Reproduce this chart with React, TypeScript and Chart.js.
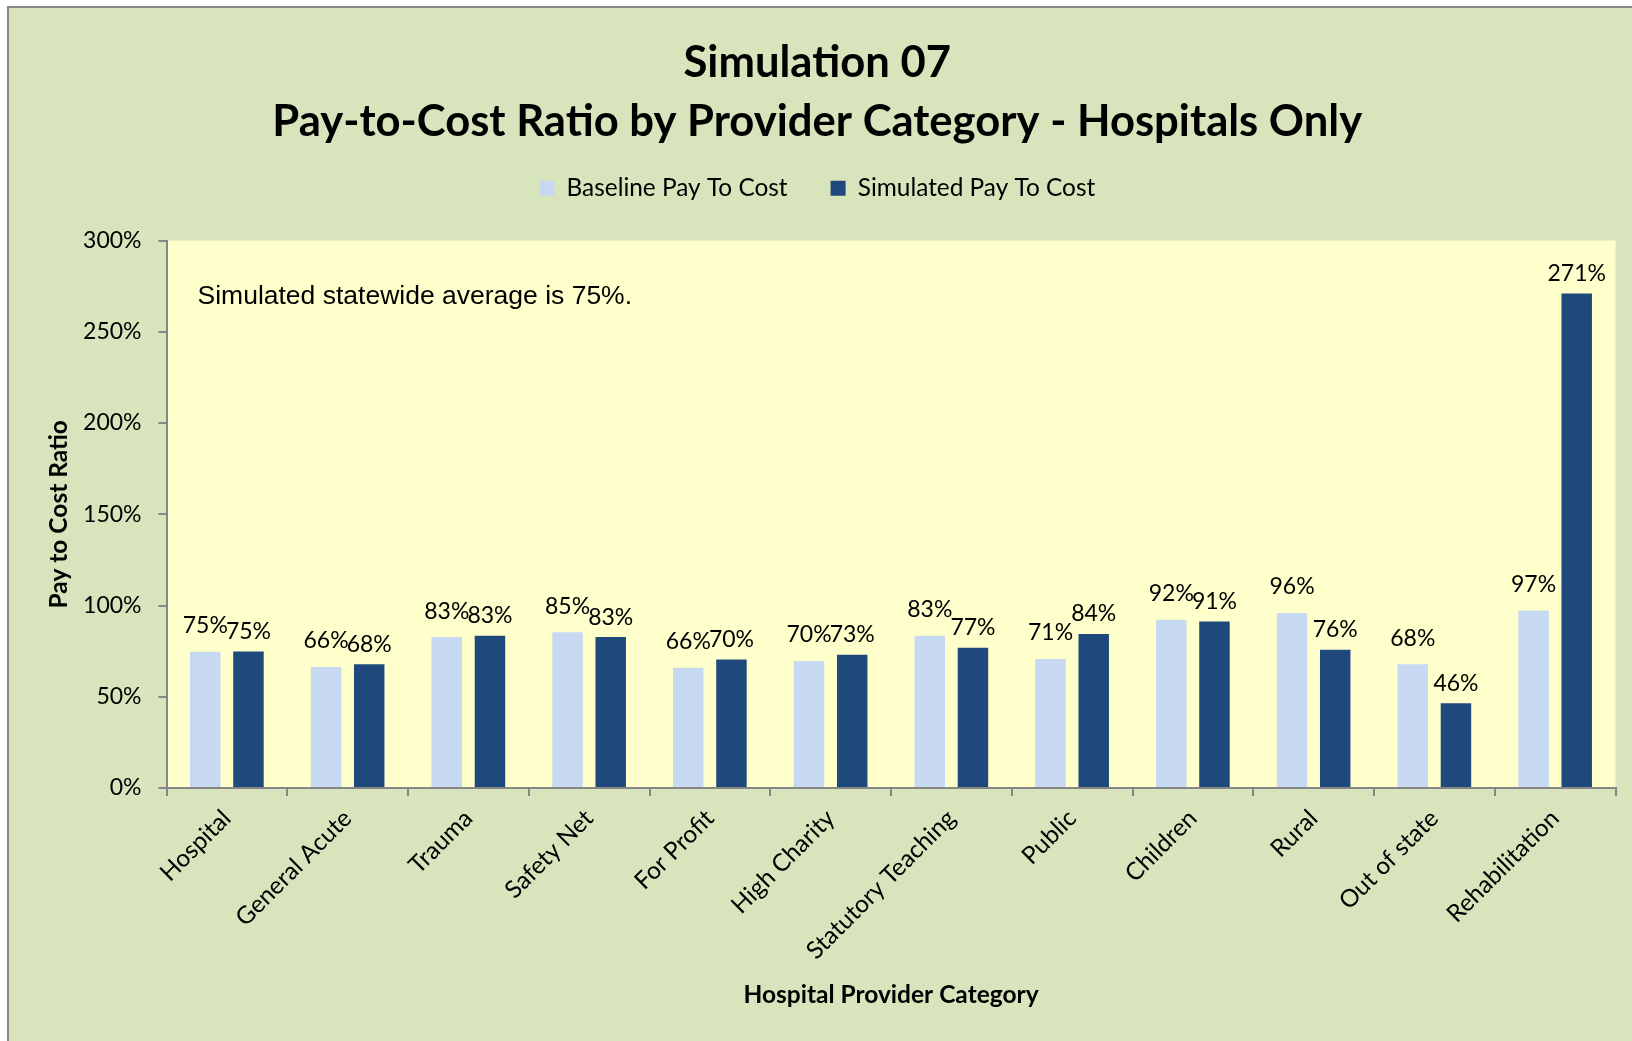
import React, { useEffect, useRef } from 'react';
import { Chart, registerables } from 'chart.js';

Chart.register(...registerables);

const categories = [
  'Hospital',
  'General Acute',
  'Trauma',
  'Safety Net',
  'For Profit',
  'High Charity',
  'Statutory Teaching',
  'Public',
  'Children',
  'Rural',
  'Out of state',
  'Rehabilitation',
];
const baselinePayToCost = [74.7, 66.3, 82.7, 85.3, 65.9, 69.6, 83.4, 70.7, 92.2, 95.9, 67.8, 97.3];
const simulatedPayToCost = [74.8, 67.8, 83.4, 82.7, 70.4, 73.0, 76.9, 84.4, 91.3, 75.8, 46.4, 271.0];
const yTickValues = [0, 50, 100, 150, 200, 250, 300];
const seriesNames = ['Baseline Pay To Cost', 'Simulated Pay To Cost'];
const titleLines = ['Simulation 07', 'Pay-to-Cost Ratio by Provider Category - Hospitals Only'];
const noteText = 'Simulated statewide average is 75%.';
const xAxisTitle = 'Hospital Provider Category';
const yAxisTitle = 'Pay to Cost Ratio';

const FONT = 'Lato';
const AXIS_GRAY = '#868686';
const PLOT_BG = '#FFFFCC';
const PAGE_BG = '#D8E4BC';
const BASELINE_COLOR = '#C6D9F1';
const SIMULATED_COLOR = '#1F497D';

const plotBackground = {
  id: 'plotBackground',
  beforeDraw(chart: any) {
    const { ctx, chartArea: a } = chart;
    ctx.save();
    ctx.fillStyle = PLOT_BG;
    ctx.fillRect(a.left, a.top, a.right - a.left, a.bottom - a.top);
    ctx.restore();
  },
};

const barLabels = {
  id: 'barLabels',
  afterDatasetsDraw(chart: any) {
    const { ctx } = chart;
    ctx.save();
    ctx.font = `23px ${FONT}`;
    ctx.fillStyle = '#000';
    ctx.textAlign = 'center';
    ctx.textBaseline = 'middle';
    chart.data.datasets.forEach((ds: any, i: number) => {
      const meta = chart.getDatasetMeta(i);
      const lift = i === 0 ? 26 : 20;
      meta.data.forEach((bar: any, j: number) => {
        ctx.fillText(`${Math.round(ds.data[j])}%`, bar.x, bar.y - lift);
      });
    });
    ctx.restore();
  },
};

const noteLabel = {
  id: 'noteLabel',
  afterDatasetsDraw(chart: any) {
    const { ctx, chartArea: a } = chart;
    ctx.save();
    ctx.font = '26.5px "Liberation Sans", Arial, sans-serif';
    ctx.fillStyle = '#000';
    ctx.textAlign = 'left';
    ctx.textBaseline = 'middle';
    ctx.fillText(noteText, a.left + 31, a.top + 56);
    ctx.restore();
  },
};

export default function App() {
  const canvasRef = useRef<HTMLCanvasElement | null>(null);

  useEffect(() => {
    const canvas = canvasRef.current;
    if (!canvas) return;
    const chart = new Chart(canvas, {
      type: 'bar',
      data: {
        labels: categories,
        datasets: [
          {
            label: seriesNames[0],
            data: baselinePayToCost,
            backgroundColor: BASELINE_COLOR,
            categoryPercentage: 0.715,
            barPercentage: 0.706,
          },
          {
            label: seriesNames[1],
            data: simulatedPayToCost,
            backgroundColor: SIMULATED_COLOR,
            categoryPercentage: 0.715,
            barPercentage: 0.706,
          },
        ],
      },
      options: {
        responsive: false,
        animation: false,
        devicePixelRatio: 1,
        layout: { padding: { left: 10, right: 16.5, top: 0, bottom: 31 } },
        plugins: {
          tooltip: { enabled: false },
          title: {
            display: true,
            text: titleLines,
            color: '#000',
            font: { family: FONT, size: 43.6, weight: 'bold', lineHeight: 1.36 },
            padding: { top: 24.85, bottom: -18.3 },
          },
          legend: {
            display: true,
            position: 'top',
            weight: 1000,
            labels: {
              color: '#000',
              font: { family: FONT, size: 24.4 },
              boxWidth: 15,
              boxHeight: 15,
              padding: 43,
            },
          },
          subtitle: {
            display: true,
            text: '',
            weight: 500,
            font: { family: FONT, size: 10, lineHeight: 1 },
            padding: { top: 20, bottom: 0 },
          },
        },
        scales: {
          x: {
            grid: {
              display: true,
              drawOnChartArea: false,
              drawTicks: true,
              tickLength: 8,
              color: AXIS_GRAY,
              lineWidth: 2,
              offset: true,
            },
            border: { display: true, color: AXIS_GRAY, width: 2 },
            ticks: {
              color: '#000',
              font: { family: FONT, size: 24.3 },
              minRotation: 45,
              maxRotation: 45,
              autoSkip: false,
              padding: 8,
            },
            title: {
              display: true,
              text: xAxisTitle,
              color: '#000',
              font: { family: FONT, size: 24.5, weight: 'bold', lineHeight: 1.2 },
              padding: 0,
            },
            afterFit: (s: any) => {
              s.height = 222;
            },
          },
          y: {
            min: 0,
            max: 300,
            afterBuildTicks: (s: any) => {
              s.ticks = yTickValues.map((v) => ({ value: v }));
            },
            ticks: {
              color: '#000',
              font: { family: FONT, size: 23 },
              padding: 17,
              callback: (v: any) => `${v}%`,
            },
            grid: {
              display: true,
              drawOnChartArea: false,
              drawTicks: true,
              tickLength: 8,
              color: AXIS_GRAY,
              lineWidth: 2,
            },
            border: { display: true, color: AXIS_GRAY, width: 2 },
            title: {
              display: true,
              text: yAxisTitle,
              color: '#000',
              font: { family: FONT, size: 24.5, weight: 'bold', lineHeight: 1.2 },
              padding: { top: 25.3, bottom: 0 },
            },
            afterFit: (s: any) => {
              s.width = 147.5;
            },
          },
        },
      },
      plugins: [plotBackground, barLabels, noteLabel],
    } as any);
    return () => chart.destroy();
  }, []);

  return (
    <div
      style={{
        position: 'fixed',
        left: 7,
        top: 6,
        width: 1625,
        height: 1035,
        borderLeft: '2px solid #888888',
        borderTop: '2px solid #888888',
        background: PAGE_BG,
        overflow: 'hidden',
      }}
    >
      <canvas ref={canvasRef} width={1623} height={1033} style={{ display: 'block', width: 1623, height: 1033 }} />
    </div>
  );
}
